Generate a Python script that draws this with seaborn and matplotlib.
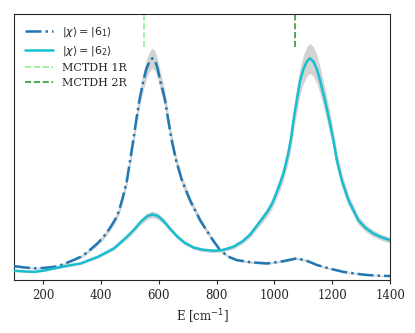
import numpy as np
import pandas as pd
import matplotlib
matplotlib.use("Agg")
import matplotlib.pyplot as plt
import seaborn as sns

# ---- data ----
x1 = [100, 135, 170, 205, 240, 265, 290, 310, 330, 345, 360, 375, 390, 409, 430, 449, 462, 472, 482, 490, 501,
      512, 522, 533, 547, 558, 570, 578, 587, 596, 605, 614, 622, 633, 645, 660, 680, 708, 743, 783, 812, 840,
      870, 920, 974, 1030, 1077, 1110, 1147, 1190, 1238, 1280, 1319, 1360, 1400]
y1 = [0.063, 0.057, 0.053, 0.055, 0.060, 0.069, 0.082, 0.093, 0.105, 0.118, 0.134, 0.150, 0.168, 0.195, 0.232,
      0.272, 0.310, 0.355, 0.405, 0.450, 0.540, 0.630, 0.720, 0.810, 0.900, 0.955, 0.990, 1.0, 0.990, 0.955,
      0.900, 0.855, 0.810, 0.720, 0.630, 0.540, 0.450, 0.360, 0.270, 0.188, 0.135, 0.106, 0.090, 0.080, 0.075,
      0.085, 0.098, 0.088, 0.068, 0.052, 0.037, 0.029, 0.023, 0.020, 0.018]
sd1 = [0.004, 0.004, 0.004, 0.004, 0.004, 0.005, 0.005, 0.006, 0.006, 0.007, 0.008, 0.009, 0.010, 0.011, 0.013,
       0.015, 0.017, 0.019, 0.021, 0.024, 0.028, 0.031, 0.034, 0.037, 0.041, 0.043, 0.045, 0.046, 0.045, 0.043,
       0.041, 0.039, 0.037, 0.033, 0.029, 0.025, 0.021, 0.017, 0.013, 0.009, 0.007, 0.006, 0.005, 0.005, 0.005,
       0.005, 0.006, 0.005, 0.004, 0.004, 0.003, 0.003, 0.003, 0.003, 0.003]

x2 = [100, 135, 170, 205, 240, 290, 330, 390, 445, 490, 515, 538, 560, 578, 598, 619, 640, 665, 690, 720, 750,
      790, 820, 858, 890, 916, 945, 974, 990, 1000, 1015, 1031, 1046, 1057, 1066, 1077, 1089, 1100, 1112, 1123,
      1135, 1147, 1158, 1175, 1190, 1204, 1216, 1233, 1256, 1290, 1315, 1342, 1370, 1400]
y2 = [0.042, 0.039, 0.037, 0.043, 0.053, 0.066, 0.075, 0.105, 0.143, 0.195, 0.228, 0.263, 0.288, 0.296, 0.288,
      0.263, 0.230, 0.195, 0.168, 0.147, 0.137, 0.132, 0.135, 0.150, 0.175, 0.205, 0.255, 0.305, 0.340, 0.370,
      0.420, 0.480, 0.560, 0.635, 0.720, 0.810, 0.900, 0.950, 0.985, 1.0, 0.985, 0.950, 0.900, 0.810, 0.720,
      0.630, 0.540, 0.450, 0.360, 0.270, 0.235, 0.210, 0.193, 0.180]
sd2 = [0.003, 0.003, 0.003, 0.003, 0.004, 0.005, 0.005, 0.006, 0.008, 0.010, 0.011, 0.013, 0.014, 0.015, 0.014,
       0.013, 0.011, 0.010, 0.009, 0.008, 0.008, 0.008, 0.008, 0.009, 0.011, 0.013, 0.016, 0.020, 0.022, 0.024,
       0.028, 0.032, 0.038, 0.043, 0.049, 0.055, 0.061, 0.064, 0.067, 0.068, 0.067, 0.064, 0.061, 0.055, 0.049,
       0.043, 0.037, 0.031, 0.025, 0.019, 0.016, 0.015, 0.014, 0.013]

ref_x = [550, 1070]
ref_labels = ["MCTDH 1R", "MCTDH 2R"]
ref_colors = ["#90ee90", "#2ca02c"]

labels = [r"$|\chi\rangle = |6_1\rangle$", r"$|\chi\rangle = |6_2\rangle$"]

df1 = pd.DataFrame({"E": x1, "I": y1, "sd": sd1})
df2 = pd.DataFrame({"E": x2, "I": y2, "sd": sd2})

sns.set_style("ticks")
plt.rcParams["font.family"] = ["DejaVu Serif"]
plt.rcParams["mathtext.fontset"] = "dejavusans"

fig = plt.figure(figsize=(4.15, 3.33), dpi=100)
ax = fig.add_axes([0.034, 0.159, 0.906, 0.799])

for df in (df1, df2):
    ax.fill_between(df["E"], df["I"] - df["sd"], df["I"] + df["sd"], color="#d3d3d3", lw=0, zorder=1)

sns.lineplot(data=df1, x="E", y="I", ax=ax, color="#1f77b4", lw=1.8, label=labels[0], zorder=3)
ax.lines[-1].set_linestyle("-.")
sns.lineplot(data=df2, x="E", y="I", ax=ax, color="#17becf", lw=1.8, label=labels[1], zorder=3)

for xv, lab, c in zip(ref_x, ref_labels, ref_colors):
    ax.axvline(xv, ymin=0.876, ymax=1.0, color=c, ls="--", lw=1.2, label=lab)

ax.set_xlim(100, 1400)
ax.set_ylim(0, 1.2)
ax.set_yticks([])
ax.set_ylabel("")
ax.set_xlabel(r"E [cm$^{-1}$]", fontsize=8.5)
ax.set_xticks([200, 400, 600, 800, 1000, 1200, 1400])
ax.tick_params(axis="x", labelsize=8.5, length=3, width=0.8)
for s in ax.spines.values():
    s.set_linewidth(0.8)

ax.legend(loc="upper left", frameon=False, fontsize=8, handlelength=2.5,
          borderaxespad=0.6, labelspacing=0.45)

fig.savefig("out.png", dpi=100)
